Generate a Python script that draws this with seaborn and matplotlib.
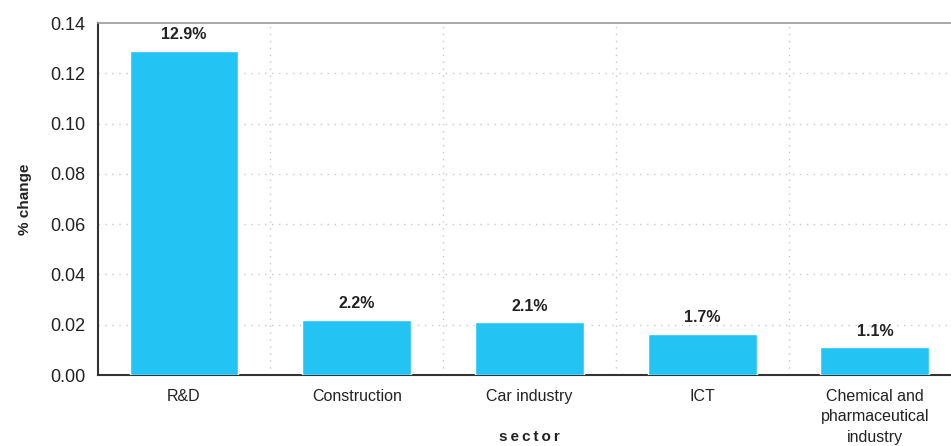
import matplotlib
matplotlib.use("Agg")
import matplotlib.pyplot as plt
import seaborn as sns
import pandas as pd
from matplotlib.ticker import FixedLocator

sectors = ["R&D", "Construction", "Car industry", "ICT", "Chemical and\npharmaceutical\nindustry"]
values = [0.129, 0.022, 0.021, 0.0165, 0.011]
labels = ["12.9%", "2.2%", "2.1%", "1.7%", "1.1%"]
yticks = [0, 0.02, 0.04, 0.06, 0.08, 0.10, 0.12, 0.14]

sns.set_theme(style="white")
plt.rcParams['font.family'] = ['Liberation Sans', 'DejaVu Sans']

df = pd.DataFrame({"sector": sectors, "change": values})

W, H = 951, 446
left, bottom_px, top_px = 97.7, 375, 23
cat_w = 172.7
fig = plt.figure(figsize=(W / 100, H / 100), dpi=100)
ax = fig.add_axes([left / W, 1 - bottom_px / H, 5 * cat_w / W, (bottom_px - top_px) / H])

sns.barplot(data=df, x="sector", y="change", color="#23C4F3", saturation=1,
            width=0.63, ax=ax, zorder=3)

ax.set_xlim(-0.5, 4.5)
ax.set_ylim(0, 0.14)
ax.set_yticks(yticks)
ax.set_yticklabels([f"{v:.2f}" for v in yticks], fontsize=13, color="#222222")

ax.set_xticks(range(len(sectors)))
ax.set_xticklabels(sectors, fontsize=11.5, color="#222222", linespacing=1.45)
ax.xaxis.set_minor_locator(FixedLocator([-0.5, 0.5, 1.5, 2.5, 3.5]))
ax.tick_params(axis="x", which="major", length=0, pad=10)
ax.tick_params(axis="x", which="minor", length=5, width=1.5, color="#333333", direction="out")
ax.tick_params(axis="y", which="major", length=5, width=1.5, color="#333333", direction="out", pad=4)

for xb in [0.5, 1.5, 2.5, 3.5]:
    ax.axvline(xb, color="#c8c8c8", linestyle=(0, (1, 4)), linewidth=1, zorder=1)
for yv in yticks[1:-1]:
    ax.axhline(yv, color="#c8c8c8", linestyle=(0, (1, 4)), linewidth=1, zorder=1)

for s in ["left", "bottom"]:
    ax.spines[s].set_color("#333333")
    ax.spines[s].set_linewidth(1.5)
ax.spines["top"].set_color("#999999")
ax.spines["top"].set_linewidth(1.2)
ax.spines["right"].set_visible(False)

for i, (v, t) in enumerate(zip(values, labels)):
    ax.annotate(t, (i, v), xytext=(0, 6), textcoords="offset points",
                ha="center", va="bottom", fontsize=11.5, fontweight="bold", color="#222222")

ax.set_ylabel("% change", fontsize=11, fontweight="bold", color="#222222", labelpad=13)
ax.set_xlabel("s\u2009e\u2009c\u2009t\u2009o\u2009r", fontsize=11, fontweight="bold", color="#222222")
ax.xaxis.set_label_coords(0.5, -(437 - bottom_px) / (bottom_px - top_px))
ax.xaxis.label.set_va("center")

fig.savefig("out.png", dpi=100)
